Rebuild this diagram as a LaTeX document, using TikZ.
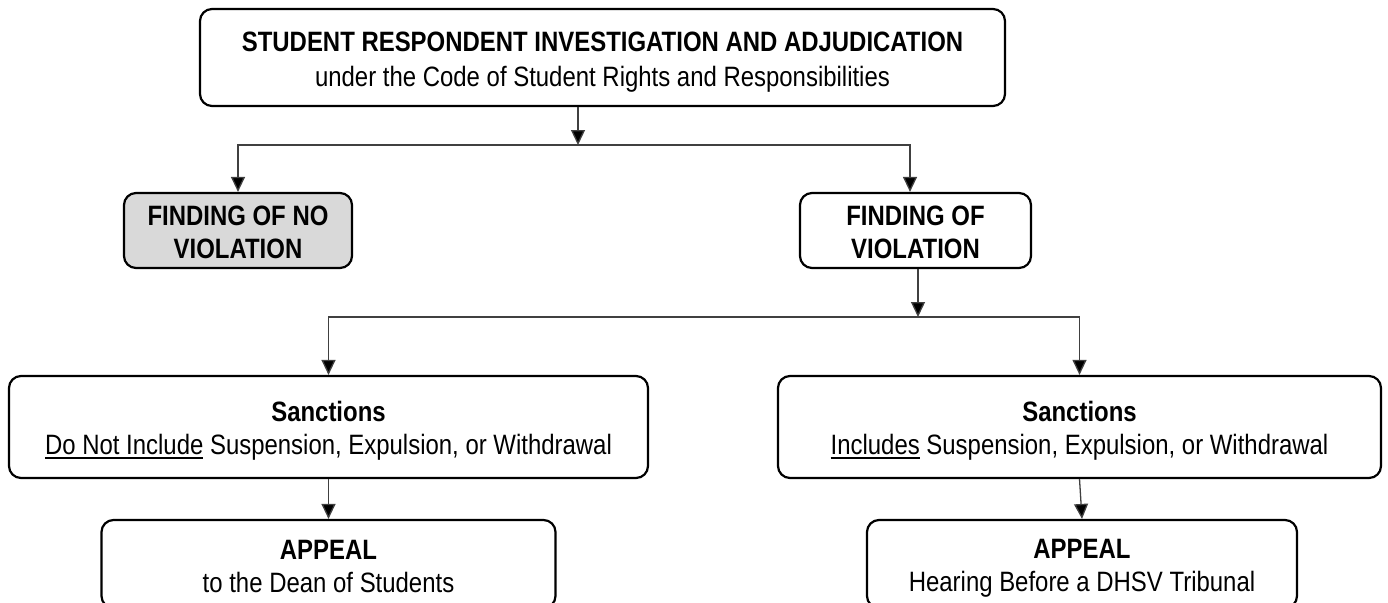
\documentclass[tikz,border=0pt]{standalone}
\usepackage{fontspec}
\setmainfont[FakeStretch=0.855]{Liberation Sans}
\usetikzlibrary{arrows.meta}
\newcommand{\myul}[1]{{\setbox0\hbox{#1}\rlap{\rule[-4.5pt]{\wd0}{2pt}}\box0}}
\newcommand{\ms}{\rule[-5pt]{0pt}{33pt}}
\tikzset{
  box/.style={draw=black, line width=2.2pt, rounded corners=12pt, inner sep=0pt,
    align=center, font=\fontsize{28}{33}\selectfont, fill=white},
  conn/.style={draw=black!75, line width=1.3pt},
  arr/.style={conn, -{Triangle[length=15pt,width=14pt,fill=black]}}
}
\begin{document}
\begin{tikzpicture}[x=1pt,y=-1pt]
\useasboundingbox (0,0) rectangle (1388,602);
\fill[white] (0,0) rectangle (1388,602);
\node[box, minimum width=805pt, minimum height=97pt,
  font=\fontsize{28}{35}\selectfont] (top) at (602.5,57.5)
  {\ms\textbf{STUDENT RESPONDENT INVESTIGATION AND ADJUDICATION}\\\ms under the Code of Student Rights and Responsibilities};
\node[box, minimum width=228pt, minimum height=75pt, fill=black!15] (nov) at (238,230.5)
  {\ms\textbf{FINDING OF NO}\\\ms\textbf{VIOLATION}};
\node[box, minimum width=231pt, minimum height=75pt] (vio) at (915.5,230.5)
  {\ms\textbf{FINDING OF}\\\ms\textbf{VIOLATION}};
\node[box, minimum width=639pt, minimum height=102pt] (sanl) at (328.5,427)
  {\ms\textbf{Sanctions}\\\ms\myul{Do Not Include} Suspension, Expulsion, or Withdrawal};
\node[box, minimum width=603pt, minimum height=102pt] (sanr) at (1079.5,427)
  {\ms\textbf{Sanctions}\\\ms\myul{Includes} Suspension, Expulsion, or Withdrawal};
\node[box, minimum width=454pt, minimum height=88pt] (appl) at (328.5,564)
  {\ms\textbf{APPEAL}\\\ms to the Dean of Students};
\node[box, minimum width=430pt, minimum height=88pt] (appr) at (1082,564)
  {\ms\textbf{APPEAL}\\\ms Hearing Before a DHSV Tribunal};
\coordinate (j1) at (578,145);
\coordinate (j2) at (918,317);
\coordinate (cr) at (910,145);
\draw[arr] (top.south -| j1) -- (j1);
\draw[arr] (j1) -| (nov.north);
\draw[arr] (j1) -- (cr) -- (cr |- vio.north);
\draw[arr] (vio.south -| j2) -- (j2);
\draw[arr] (j2) -| (sanl.north);
\draw[arr] (j2) -| (sanr.north);
\draw[arr] (sanl.south) -- (appl.north);
\draw[arr] (sanr.south) -- (appr.north);
\end{tikzpicture}
\end{document}
